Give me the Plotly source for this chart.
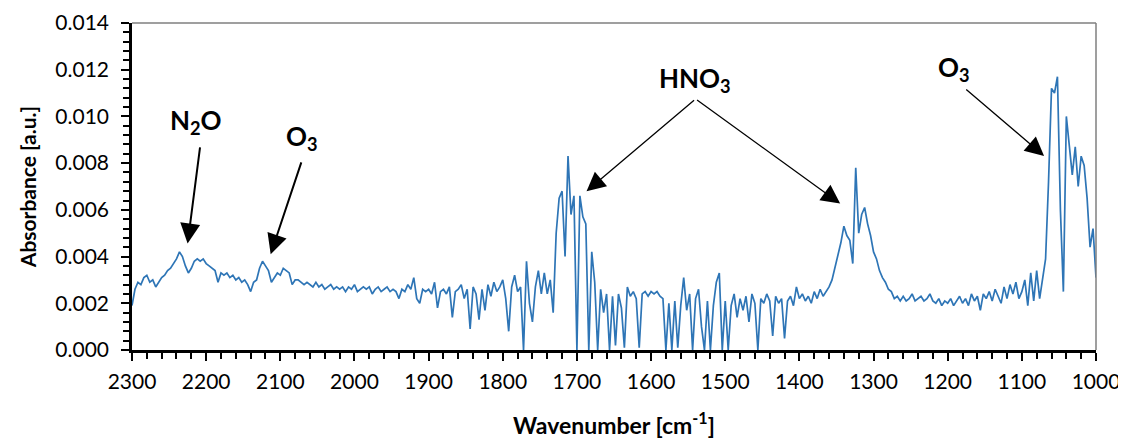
import plotly.graph_objects as go

# Sampling grid of the spectrum (cm-1), 4 cm-1 steps from 2300 down to 1000
wavenumber = list(range(2300, 999, -4))

# Absorbance (a.u.), one row = 40 cm-1
absorbance = [
    0.0019, 0.0026, 0.0029, 0.0028, 0.0031, 0.0032, 0.0029, 0.0030, 0.0027, 0.0029,  # 2300-2264
    0.0031, 0.0032, 0.0034, 0.0035, 0.0037, 0.0039, 0.0042, 0.0040, 0.0036, 0.0033,  # 2260-2224
    0.0035, 0.0038, 0.0039, 0.0038, 0.0039, 0.0037, 0.0036, 0.0035, 0.0034, 0.0029,  # 2220-2184
    0.0033, 0.0032, 0.0033, 0.0031, 0.0032, 0.0030, 0.0031, 0.0029, 0.0030, 0.0028,  # 2180-2144
    0.0025, 0.0029, 0.0030, 0.0035, 0.0038, 0.0036, 0.0034, 0.0029, 0.0031, 0.0033,  # 2140-2104
    0.0032, 0.0035, 0.0034, 0.0033, 0.0028, 0.0030, 0.0030, 0.0029, 0.0028, 0.0029,  # 2100-2064
    0.0028, 0.0027, 0.0029, 0.0027, 0.0028, 0.0026, 0.0027, 0.0028, 0.0026, 0.0027,  # 2060-2024
    0.0026, 0.0027, 0.0025, 0.0027, 0.0026, 0.0028, 0.0025, 0.0026, 0.0027, 0.0026,  # 2020-1984
    0.0027, 0.0024, 0.0026, 0.0027, 0.0025, 0.0026, 0.0027, 0.0025, 0.0026, 0.0025,  # 1980-1944
    0.0022, 0.0026, 0.0025, 0.0028, 0.0026, 0.0031, 0.0022, 0.0020, 0.0026, 0.0025,  # 1940-1904
    0.0026, 0.0024, 0.0029, 0.0018, 0.0025, 0.0026, 0.0024, 0.0027, 0.0014, 0.0025,  # 1900-1864
    0.0026, 0.0028, 0.0022, 0.0026, 0.0009, 0.0027, 0.0024, 0.0013, 0.0026, 0.0017,  # 1860-1824
    0.0028, 0.0023, 0.0029, 0.0025, 0.0027, 0.0030, 0.0022, 0.0008, 0.0027, 0.0032,  # 1820-1784
    0.0025, 0.0027, 0.0000, 0.0038, 0.0020, 0.0012, 0.0027, 0.0034, 0.0024, 0.0033,  # 1780-1744
    0.0024, 0.0030, 0.0016, 0.0050, 0.0065, 0.0068, 0.0040, 0.0083, 0.0058, 0.0066,  # 1740-1704
    0.0000, 0.0066, 0.0057, 0.0054, 0.0000, 0.0042, 0.0029, 0.0000, 0.0026, 0.0016,  # 1700-1664
    0.0024, 0.0000, 0.0023, 0.0002, 0.0024, 0.0018, 0.0001, 0.0027, 0.0023, 0.0025,  # 1660-1624
    0.0022, 0.0001, 0.0024, 0.0025, 0.0023, 0.0025, 0.0024, 0.0025, 0.0023, 0.0022,  # 1620-1584
    0.0000, 0.0020, 0.0000, 0.0021, 0.0001, 0.0019, 0.0031, 0.0017, 0.0024, 0.0000,  # 1580-1544
    0.0022, 0.0026, 0.0010, 0.0000, 0.0021, 0.0000, 0.0019, 0.0029, 0.0033, 0.0000,  # 1540-1504
    0.0021, 0.0000, 0.0019, 0.0024, 0.0014, 0.0022, 0.0017, 0.0023, 0.0012, 0.0024,  # 1500-1464
    0.0020, 0.0000, 0.0022, 0.0020, 0.0024, 0.0021, 0.0006, 0.0023, 0.0020, 0.0022,  # 1460-1424
    0.0005, 0.0021, 0.0023, 0.0019, 0.0027, 0.0022, 0.0024, 0.0021, 0.0023, 0.0020,  # 1420-1384
    0.0025, 0.0022, 0.0026, 0.0023, 0.0025, 0.0027, 0.0030, 0.0035, 0.0040, 0.0046,  # 1380-1344
    0.0053, 0.0049, 0.0047, 0.0037, 0.0078, 0.0050, 0.0058, 0.0061, 0.0054, 0.0049,  # 1340-1304
    0.0042, 0.0039, 0.0034, 0.0031, 0.0029, 0.0026, 0.0025, 0.0022, 0.0023, 0.0021,  # 1300-1264
    0.0023, 0.0021, 0.0022, 0.0024, 0.0021, 0.0022, 0.0023, 0.0021, 0.0022, 0.0024,  # 1260-1224
    0.0021, 0.0020, 0.0022, 0.0019, 0.0021, 0.0020, 0.0022, 0.0019, 0.0021, 0.0023,  # 1220-1184
    0.0020, 0.0022, 0.0019, 0.0024, 0.0021, 0.0023, 0.0017, 0.0024, 0.0022, 0.0025,  # 1180-1144
    0.0021, 0.0026, 0.0023, 0.0020, 0.0027, 0.0022, 0.0028, 0.0024, 0.0029, 0.0022,  # 1140-1104
    0.0025, 0.0030, 0.0019, 0.0033, 0.0021, 0.0034, 0.0022, 0.0030, 0.0039, 0.0072,  # 1100-1064
    0.0112, 0.0110, 0.0117, 0.0060, 0.0025, 0.0100, 0.0088, 0.0075, 0.0087, 0.0070,  # 1060-1024
    0.0083, 0.0079, 0.0065, 0.0044, 0.0052, 0.0031,                                  # 1020-1000
]

x_ticks = [2300, 2200, 2100, 2000, 1900, 1800, 1700, 1600, 1500, 1400, 1300, 1200, 1100, 1000]
y_ticks = [0.000, 0.002, 0.004, 0.006, 0.008, 0.010, 0.012, 0.014]

# Labels: (text, text position wn, text position A)
labels = [
    ("N<sub>2</sub>O", 2214, 0.0098),
    ("O<sub>3</sub>", 2071, 0.0091),
    ("HNO<sub>3</sub>", 1541, 0.0116),
    ("O<sub>3</sub>", 1191, 0.01207),
]
# Arrows: (tail wn, tail A, head wn, head A, line width, head size)
arrows = [
    (2208, 0.00874, 2225, 0.00456, 2.0, 2.0),
    (2071, 0.00810, 2113, 0.00410, 2.0, 2.0),
    (1540, 0.01075, 1687, 0.00680, 1.3, 2.9),
    (1540, 0.01075, 1345, 0.00627, 1.3, 2.9),
    (1177, 0.01121, 1070, 0.00831, 1.3, 2.9),
]

FONT = "Lato"
BLUE = "#2E75B6"

fig = go.Figure()
fig.add_trace(go.Scatter(
    x=wavenumber, y=absorbance, mode="lines",
    line=dict(color=BLUE, width=1.7), showlegend=False, hoverinfo="skip",
))

for text, x, y in labels:
    fig.add_annotation(x=x, y=y, xref="x", yref="y", text=f"<b>{text}</b>",
                       showarrow=False, font=dict(family=FONT, size=26, color="black"))

for tx, ty, hx, hy, w, s in arrows:
    fig.add_annotation(x=hx, y=hy, ax=tx, ay=ty, xref="x", yref="y", axref="x", ayref="y",
                       text="", showarrow=True, arrowhead=2, arrowsize=s,
                       arrowwidth=w, arrowcolor="black")

# top and right frame lines (grey)
fig.add_shape(type="line", xref="paper", yref="paper", x0=0, x1=1, y0=1, y1=1,
              line=dict(color="#7f7f7f", width=1.5))
fig.add_shape(type="line", xref="paper", yref="paper", x0=1, x1=1, y0=0, y1=1,
              line=dict(color="#7f7f7f", width=1.5))

# the page body adds an 8 px margin, so the figure is 8 px smaller each way
fig.update_layout(
    width=1118, height=431,
    margin=dict(l=124, r=30, t=15, b=89, autoexpand=False),
    paper_bgcolor="white", plot_bgcolor="white",
    font=dict(family=FONT, size=21, color="black"),
)
fig.update_xaxes(
    range=[2300, 1000], tickvals=x_ticks, ticktext=[str(v) for v in x_ticks],
    showline=True, linecolor="black", linewidth=2.5, mirror=False,
    ticks="outside", ticklen=8, tickwidth=1.5, tickcolor="black",
    minor=dict(dtick=20, ticks="outside", ticklen=6, tickwidth=1.5, tickcolor="black"),
    showgrid=False, zeroline=False, automargin=False,
    tickfont=dict(family=FONT, size=21), ticklabelstandoff=3,
    title=dict(text="<b>Wavenumber [cm<sup>-1</sup>]</b>", font=dict(family=FONT, size=23), standoff=27),
)
fig.update_yaxes(
    range=[0, 0.014], tickvals=y_ticks, ticktext=[f"{v:.3f}" for v in y_ticks],
    showline=True, linecolor="black", linewidth=2.5, mirror=False,
    ticks="outside", ticklen=8, tickwidth=1.5, tickcolor="black",
    minor=dict(dtick=0.0004, ticks="outside", ticklen=6, tickwidth=1.5, tickcolor="black"),
    showgrid=False, zeroline=False, automargin=False,
    tickfont=dict(family=FONT, size=21), ticklabelstandoff=8,
    title=dict(text="<b>Absorbance [a.u.]</b>", font=dict(family=FONT, size=21), standoff=14),
)

fig.write_html("out.html")
